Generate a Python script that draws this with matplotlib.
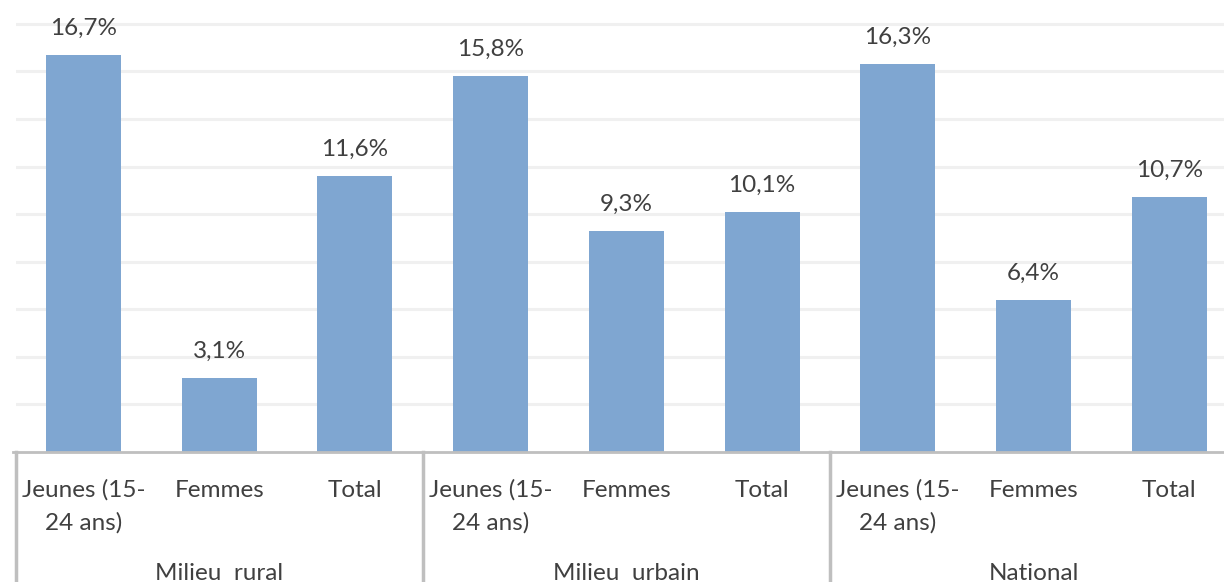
import matplotlib
matplotlib.use("Agg")
import matplotlib.pyplot as plt
from matplotlib.transforms import blended_transform_factory

categories = ["Jeunes (15-\n24 ans)", "Femmes", "Total"] * 3
groups = ["Milieu  rural", "Milieu  urbain", "National"]
values = [16.7, 3.1, 11.6, 15.8, 9.3, 10.1, 16.3, 6.4, 10.7]
labels = ["16,7%", "3,1%", "11,6%", "15,8%", "9,3%", "10,1%", "16,3%", "6,4%", "10,7%"]

W, H = 1224, 582
fig = plt.figure(figsize=(W / 100, H / 100), dpi=100)
plt.rcParams['font.family'] = ['Lato', 'DejaVu Sans']
left_px, right_px, base_px = 15.7, 1237.0, 452.0
ax = fig.add_axes([left_px / W, (H - base_px) / H, (right_px - left_px) / W, base_px / H])
ax.set_xlim(-0.5, len(values) - 0.5)
ax.set_ylim(0, 19)

bar_color = "#7FA6D1"
text_color = "#404040"
grid_color = "#F0F0F0"
axis_color = "#BFBFBF"
fs = 17.5

for y in range(2, 19, 2):
    ax.axhline(y, color=grid_color, lw=2.2, zorder=0)

x = list(range(len(values)))
ax.bar(x, values, width=0.553, color=bar_color, zorder=2)

for xi, v, lab in zip(x, values, labels):
    ax.annotate(lab, (xi, v), xytext=(0, 14.5), textcoords="offset points",
                ha="center", va="baseline", fontsize=fs, color=text_color)

for s in ax.spines.values():
    s.set_visible(False)
ax.set_xticks([])
ax.set_yticks([])

trans = blended_transform_factory(ax.transData, fig.transFigure)
def fy(py):
    return (H - py) / H

ax.plot([-0.52, len(values) - 0.5], [fy(base_px)] * 2, transform=trans, color=axis_color,
        lw=2, clip_on=False, zorder=3)
for gx in [-0.5, 2.5, 5.5]:
    ax.plot([gx, gx], [fy(base_px), 0], transform=trans, color=axis_color, lw=2.5,
            clip_on=False, zorder=3)

for xi, cat in zip(x, categories):
    for li, line in enumerate(cat.split("\n")):
        ax.text(xi, fy(497 + 33 * li), line, transform=trans, ha="center", va="baseline",
                fontsize=fs, color=text_color)

for gi, g in enumerate(groups):
    ax.text(3 * gi + 1, fy(580), g, transform=trans, ha="center", va="baseline",
            fontsize=fs, color=text_color)

fig.savefig("out.png", dpi=100)
